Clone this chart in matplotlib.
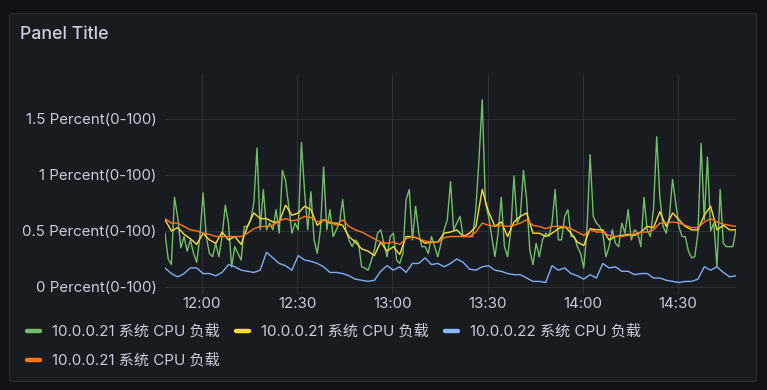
import matplotlib
matplotlib.use("Agg")
import matplotlib.pyplot as plt
import matplotlib.dates as mdates
from matplotlib.lines import Line2D
from matplotlib.patches import FancyBboxPatch
import pandas as pd

# one sample per minute for the noisy series, every 2 min for the smoother ones
t_fast = pd.date_range("2024-01-01 11:48:20", periods=181, freq="1min")
t_slow = pd.date_range("2024-01-01 11:48:20", periods=91, freq="2min")

green = [
    0.48, 0.25, 0.20, 0.80, 0.62, 0.35, 0.45, 0.32, 0.42, 0.30,
    0.22, 0.45, 0.84, 0.45, 0.30, 0.27, 0.39, 0.27, 0.45, 0.73,
    0.57, 0.18, 0.36, 0.30, 0.24, 0.54, 0.54, 0.60, 0.75, 1.24,
    0.51, 0.87, 0.51, 0.57, 0.51, 0.69, 0.48, 1.04, 0.95, 0.72,
    0.48, 0.57, 0.51, 1.29, 0.85, 0.51, 0.85, 0.42, 0.30, 0.51,
    1.07, 0.51, 0.69, 0.45, 0.51, 0.57, 0.78, 0.51, 0.42, 0.36,
    0.42, 0.39, 0.18, 0.17, 0.15, 0.23, 0.33, 0.48, 0.51, 0.39,
    0.27, 0.45, 0.48, 0.24, 0.21, 0.30, 0.78, 0.87, 0.42, 0.72,
    0.48, 0.36, 0.36, 0.30, 0.45, 0.36, 0.27, 0.39, 0.51, 0.60,
    0.94, 0.51, 0.57, 0.63, 0.45, 0.45, 0.45, 0.45, 0.70, 1.15,
    1.67, 0.75, 0.63, 0.45, 0.27, 0.48, 0.80, 0.36, 0.27, 0.50,
    0.99, 0.57, 0.63, 1.04, 0.78, 0.33, 0.20, 0.39, 0.27, 0.42,
    0.48, 0.45, 0.57, 0.87, 0.42, 0.42, 0.63, 0.69, 0.45, 0.45,
    0.36, 0.30, 0.17, 0.50, 1.18, 0.63, 0.57, 0.54, 0.48, 0.27,
    0.36, 0.51, 0.39, 0.36, 0.57, 0.48, 0.69, 0.42, 0.51, 0.48,
    0.36, 0.80, 0.51, 0.45, 0.70, 1.34, 0.80, 0.54, 0.48, 0.63,
    0.96, 0.75, 0.54, 0.45, 0.45, 0.32, 0.26, 0.27, 0.48, 1.28,
    0.60, 1.16, 0.50, 0.57, 0.18, 0.87, 0.39, 0.36, 0.36, 0.36,
    0.51,
]

yellow = [
    0.60, 0.50, 0.53, 0.47, 0.43, 0.38, 0.48, 0.42, 0.39, 0.49,
    0.42, 0.45, 0.38, 0.54, 0.66, 0.61, 0.61, 0.58, 0.58, 0.73,
    0.64, 0.66, 0.72, 0.69, 0.55, 0.60, 0.57, 0.57, 0.55, 0.45,
    0.40, 0.34, 0.32, 0.28, 0.40, 0.32, 0.36, 0.29, 0.45, 0.45,
    0.43, 0.39, 0.40, 0.40, 0.48, 0.49, 0.51, 0.45, 0.48, 0.54,
    0.87, 0.67, 0.54, 0.58, 0.45, 0.58, 0.63, 0.66, 0.48, 0.48,
    0.45, 0.48, 0.52, 0.54, 0.48, 0.40, 0.37, 0.52, 0.51, 0.51,
    0.42, 0.45, 0.46, 0.47, 0.46, 0.49, 0.54, 0.53, 0.67, 0.54,
    0.66, 0.60, 0.54, 0.51, 0.51, 0.64, 0.72, 0.51, 0.55, 0.51,
    0.51,
]

blue = [
    0.17, 0.12, 0.09, 0.12, 0.17, 0.17, 0.12, 0.12, 0.10, 0.13,
    0.20, 0.18, 0.15, 0.14, 0.13, 0.15, 0.31, 0.26, 0.21, 0.19,
    0.15, 0.28, 0.24, 0.23, 0.21, 0.18, 0.13, 0.13, 0.12, 0.10,
    0.07, 0.06, 0.05, 0.06, 0.14, 0.19, 0.15, 0.18, 0.13, 0.21,
    0.21, 0.26, 0.20, 0.21, 0.18, 0.21, 0.25, 0.22, 0.16, 0.15,
    0.18, 0.19, 0.15, 0.14, 0.12, 0.11, 0.11, 0.08, 0.05, 0.05,
    0.04, 0.19, 0.15, 0.17, 0.12, 0.10, 0.07, 0.11, 0.08, 0.21,
    0.17, 0.18, 0.14, 0.14, 0.11, 0.12, 0.12, 0.08, 0.08, 0.06,
    0.05, 0.04, 0.05, 0.05, 0.07, 0.18, 0.15, 0.18, 0.13, 0.09,
    0.10,
]

orange = [
    0.61, 0.57, 0.57, 0.54, 0.51, 0.50, 0.48, 0.47, 0.45, 0.45,
    0.45, 0.45, 0.45, 0.48, 0.52, 0.54, 0.54, 0.55, 0.59, 0.61,
    0.59, 0.60, 0.63, 0.62, 0.58, 0.60, 0.58, 0.55, 0.60, 0.54,
    0.51, 0.49, 0.46, 0.43, 0.40, 0.39, 0.40, 0.38, 0.43, 0.45,
    0.43, 0.41, 0.40, 0.40, 0.44, 0.45, 0.45, 0.45, 0.45, 0.49,
    0.57, 0.55, 0.54, 0.55, 0.54, 0.55, 0.57, 0.60, 0.55, 0.54,
    0.52, 0.54, 0.54, 0.54, 0.52, 0.49, 0.46, 0.51, 0.49, 0.49,
    0.46, 0.45, 0.45, 0.46, 0.47, 0.49, 0.49, 0.51, 0.57, 0.57,
    0.58, 0.57, 0.55, 0.53, 0.53, 0.58, 0.61, 0.58, 0.56, 0.55,
    0.54,
]

series_names = ["10.0.0.21 系统 CPU 负载", "10.0.0.21 系统 CPU 负载",
                "10.0.0.22 系统 CPU 负载", "10.0.0.21 系统 CPU 负载"]
series_colors = ["#73bf69", "#fade2a", "#8ab8ff", "#ff780a"]
y_ticks = [0, 0.5, 1, 1.5]
y_tick_labels = ["0 Percent(0-100)", "0.5 Percent(0-100)",
                 "1 Percent(0-100)", "1.5 Percent(0-100)"]

W, H = 767, 390
TEXT = "#ccccdc"
FONT = ["Inter", "Noto Sans CJK SC", "DejaVu Sans"]
plt.rcParams["font.family"] = FONT


def fx(px):
    return px / W


def fy(py):
    return 1 - py / H


fig = plt.figure(figsize=(W / 100, H / 100), dpi=100)
fig.patch.set_facecolor("#111217")

panel = FancyBboxPatch((fx(9.5), fy(381.5)), fx(747), 368 / H,
                       boxstyle="round,pad=0,rounding_size=0.004",
                       transform=fig.transFigure, facecolor="#181b1f",
                       edgecolor="#2b2f35", linewidth=0.8, zorder=-5)
fig.patches.append(panel)

fig.text(fx(20), fy(34.5), "Panel Title", color=TEXT, fontsize=12.8,
         fontweight="medium", va="center", ha="left")

ax = fig.add_axes([fx(165), fy(294), fx(736) - fx(165), fy(74) - fy(294)])
ax.set_facecolor("none")
ax.set_zorder(2)

ax.plot(t_fast, green, color=series_colors[0], lw=1.0)
ax.plot(t_slow, yellow, color=series_colors[1], lw=1.0)
ax.plot(t_slow, blue, color="#7eaef5", lw=1.0)
ax.plot(t_slow, orange, color=series_colors[3], lw=1.0)

ax.set_xlim(t_fast[0], t_fast[-1])
ax.set_ylim(-0.0625, 1.9)
ax.set_yticks(y_ticks)
ax.set_yticklabels(y_tick_labels)
ax.xaxis.set_major_locator(mdates.MinuteLocator(byminute=[0, 30]))
ax.xaxis.set_major_formatter(mdates.DateFormatter("%H:%M"))
ax.grid(True, color="#2e3036", linewidth=0.8)
ax.set_axisbelow(True)
for s in ax.spines.values():
    s.set_visible(False)
ax.tick_params(length=0, colors=TEXT, labelsize=10.8)
ax.tick_params(axis="y", pad=6)
ax.tick_params(axis="x", pad=2)

# legend, laid out like the panel's own list
legend_spots = [(27, 331), (236, 331), (445, 331), (27, 360)]
for (lx, ly), name, col in zip(legend_spots, series_names, series_colors):
    fig.add_artist(Line2D([fx(lx), fx(lx + 13)], [fy(ly), fy(ly)],
                          color=col, lw=3.2, solid_capstyle="round",
                          transform=fig.transFigure))
    fig.text(fx(lx + 25), fy(ly), name, color=TEXT, fontsize=10.9,
             va="center", ha="left")

fig.savefig("out.png", dpi=100, facecolor=fig.get_facecolor())
